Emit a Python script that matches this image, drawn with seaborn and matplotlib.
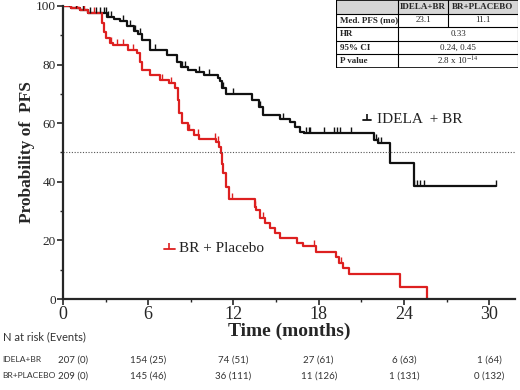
import numpy as np
import pandas as pd
import seaborn as sns
import matplotlib.pyplot as plt
from matplotlib.patches import Rectangle

# step curves (months, % progression-free)
idela_t = [0, 0.6, 1.2, 1.8, 3.1, 3.6, 4.0, 4.5, 5.0, 5.3, 5.6, 6.1, 7.3, 8.0, 8.3, 8.8, 9.4,
           9.9, 10.9, 11.05, 11.2, 11.5, 13.3, 13.8, 14.1, 15.3, 16.0, 16.3, 16.7, 17.0, 21.9,
           22.2, 23.0, 24.7, 30.5]
idela_s = [100, 99.3, 98.5, 97.6, 96.3, 95.5, 94.7, 93.0, 91.5, 90.5, 88.4, 85.0, 83.3, 81.0, 79.3,
           78.2, 77.6, 76.5, 75.5, 74.5, 71.9, 69.8, 67.9, 65.5, 62.8, 61.5, 60.5, 58.8, 57.1, 56.5,
           54.3, 53.1, 46.3, 38.6, 38.6]
plac_t = [0, 0.6, 1.2, 1.8, 2.75, 2.9, 3.0, 3.3, 3.5, 4.6, 5.2, 5.4, 5.6, 6.1, 6.8, 7.5, 7.9, 8.1,
          8.2, 8.4, 8.8, 9.2, 9.6, 10.8, 11.0, 11.1, 11.2, 11.3, 11.45, 11.7, 13.5, 13.6, 13.9,
          14.2, 14.6, 14.9, 15.3, 16.5, 16.9, 17.8, 19.2, 19.4, 19.7, 20.1, 23.7, 25.6]
plac_s = [100, 99.3, 98.5, 97.4, 94.0, 91.0, 89.0, 87.3, 86.7, 85.0, 83.8, 81.0, 78.2, 76.5, 74.7,
          73.6, 71.9, 67.9, 63.4, 60.0, 57.7, 56.0, 54.5, 53.7, 52.0, 49.7, 46.0, 42.9, 38.3, 34.0,
          31.5, 30.4, 27.5, 25.8, 24.1, 22.4, 20.7, 19.0, 18.1, 16.1, 14.4, 12.2, 10.5, 8.6, 4.2, 0]

# censored observations (months)
idela_cens = [0.4, 0.9, 1.4, 1.9, 2.3, 2.6, 2.9, 3.0, 3.2, 3.4, 4.2, 4.7, 5.1, 5.4, 6.5, 8.4, 8.6,
              9.6, 10.3, 11.3, 12.0, 13.9, 15.5, 17.1, 17.3, 17.4, 18.4, 19.1, 19.3, 19.5, 20.3,
              22.0, 22.2, 22.4, 24.7, 24.9, 25.1, 25.4, 30.5]
plac_cens = [0.5, 1.0, 1.5, 2.2, 3.4, 3.8, 4.2, 4.9, 7.0, 7.6, 8.9, 9.5, 10.7, 10.9, 11.9, 13.5,
             14.1, 17.7, 19.6]

arms = ['IDELA + BR', 'BR + Placebo']
colors = {'IDELA + BR': '#111111', 'BR + Placebo': '#dd2020'}

risk_months = [0, 6, 12, 18, 24, 30]
risk_idela = ['207 (0)', '154 (25)', '74 (51)', '27 (61)', '6 (63)', '1 (64)']
risk_plac = ['209 (0)', '145 (46)', '36 (111)', '11 (126)', '1 (131)', '0 (132)']

table_cols = ['', 'IDELA+BR', 'BR+PLACEBO']
table_rows = ['Med. PFS (mo)', 'HR', '95% CI', 'P value']
med_pfs = ['23.1', '11.1']
hr_val = '0.33'
ci_val = '0.24, 0.45'
p_val = '2.8 x 10$^{-14}$'

sns.set_style('ticks')
plt.rcParams['font.family'] = ['Liberation Serif', 'DejaVu Serif']
plt.rcParams['mathtext.fontset'] = 'stix'

df = pd.concat([
    pd.DataFrame({'time': idela_t, 'surv': idela_s, 'arm': arms[0]}),
    pd.DataFrame({'time': plac_t, 'surv': plac_s, 'arm': arms[1]}),
])

fig = plt.figure(figsize=(5.2, 3.9), dpi=100)
ax = fig.add_axes([0.121, 0.233, 0.869, 0.752])

sns.lineplot(data=df, x='time', y='surv', hue='arm', palette=colors, estimator=None,
             sort=False, drawstyle='steps-post', lw=1.6, legend=False, ax=ax)


def surv_at(ts, ss, x):
    i = np.searchsorted(ts, x, side='right') - 1
    return np.asarray(ss)[i]


for cens, ts, ss, arm in [(idela_cens, idela_t, idela_s, arms[0]),
                          (plac_cens, plac_t, plac_s, arms[1])]:
    ax.plot(cens, surv_at(ts, ss, cens), ls='none', marker=2, ms=4, mew=1, color=colors[arm])

ax.axhline(50, color='#555555', ls=(0, (1, 1.5)), lw=0.8)

# inline labels
ax.plot([21.1, 21.7], [61.1, 61.1], color=colors[arms[0]], lw=1.3)
ax.plot([21.4], [61.1], marker=2, ms=4, mew=1.2, color=colors[arms[0]])
ax.text(22.1, 61.1, 'IDELA  + BR', fontsize=11, va='center', color='#222222')
ax.plot([7.1, 7.9], [17.1, 17.1], color=colors[arms[1]], lw=1.3)
ax.plot([7.5], [17.1], marker=2, ms=4, mew=1.2, color=colors[arms[1]])
ax.text(8.2, 17.1, 'BR + Placebo', fontsize=11, va='center', color='#222222')

ax.set_xlim(0, 31.8)
ax.set_ylim(0, 100)
ax.set_xticks(risk_months)
ax.set_xticks([3, 9, 15, 21, 27], minor=True)
ax.set_yticks([0, 20, 40, 60, 80, 100])
ax.set_yticks([10, 30, 50, 70, 90], minor=True)
ax.tick_params(axis='x', labelsize=13, length=4, width=1.2, pad=1)
ax.tick_params(axis='y', labelsize=9.5, length=4, width=1.2, pad=1)
ax.tick_params(which='minor', length=2, width=1)
for s in ['left', 'bottom']:
    ax.spines[s].set_linewidth(1.6)
sns.despine(ax=ax)
ax.set_xlabel('Time (months)', fontsize=14, fontweight='bold', labelpad=0)
ax.set_ylabel('Probability of  PFS', fontsize=12.5, fontweight='bold', labelpad=1)

# number at risk
sans = ['Lato', 'DejaVu Sans']
fig.text(0.005, (390 - 337) / 390, 'N at risk (Events)', fontsize=8, family=sans,
         color='#333333', va='center')
for y_px, name, vals in [(360, 'IDELA+BR', risk_idela), (376, 'BR+PLACEBO', risk_plac)]:
    yf = (390 - y_px) / 390
    fig.text(0.004, yf, name, fontsize=6.1, family=sans, color='#333333', va='center')
    for m, v in zip(risk_months, vals):
        xf = ax.transData.transform((m, 0))[0] / fig.bbox.width
        if m == 0:
            fig.text(xf - 0.010, yf, v, fontsize=7, family=sans, color='#333333',
                     va='center', ha='left')
        else:
            fig.text(xf, yf, v, fontsize=7, family=sans, color='#333333',
                     va='center', ha='center')

# summary table
tax = fig.add_axes([336 / 520, 1 - 68 / 390, 182 / 520, 68 / 390])
tax.set_xlim(0, 1)
tax.set_ylim(0, 5)
tax.axis('off')
cx = [0, 0.341, 0.615, 1.0]
tax.add_patch(Rectangle((0, 4), 1, 1, color='#d6d6d6', lw=0))
for r in range(6):
    tax.plot([0, 1], [r, r], color='black', lw=1.2 if r in (0, 5) else 0.8)
for x in (cx[0], cx[1], cx[3]):
    tax.plot([x, x], [0, 5], color='black', lw=0.8)
tax.plot([cx[2], cx[2]], [3, 5], color='black', lw=0.8)
fs = 6.5
for j in (1, 2):
    tax.text((cx[j] + cx[j + 1]) / 2, 4.5, table_cols[j], fontsize=fs, fontweight='bold',
             ha='center', va='center')
for i, lab in enumerate(table_rows):
    tax.text(0.02, 3.5 - i, lab, fontsize=fs, fontweight='bold', ha='left', va='center')
tax.text((cx[1] + cx[2]) / 2, 3.5, med_pfs[0], fontsize=fs, ha='center', va='center')
tax.text((cx[2] + cx[3]) / 2, 3.5, med_pfs[1], fontsize=fs, ha='center', va='center')
for i, v in enumerate([hr_val, ci_val, p_val]):
    tax.text((cx[1] + cx[3]) / 2, 2.5 - i, v, fontsize=fs, ha='center', va='center')

fig.savefig('out.png', dpi=100)
